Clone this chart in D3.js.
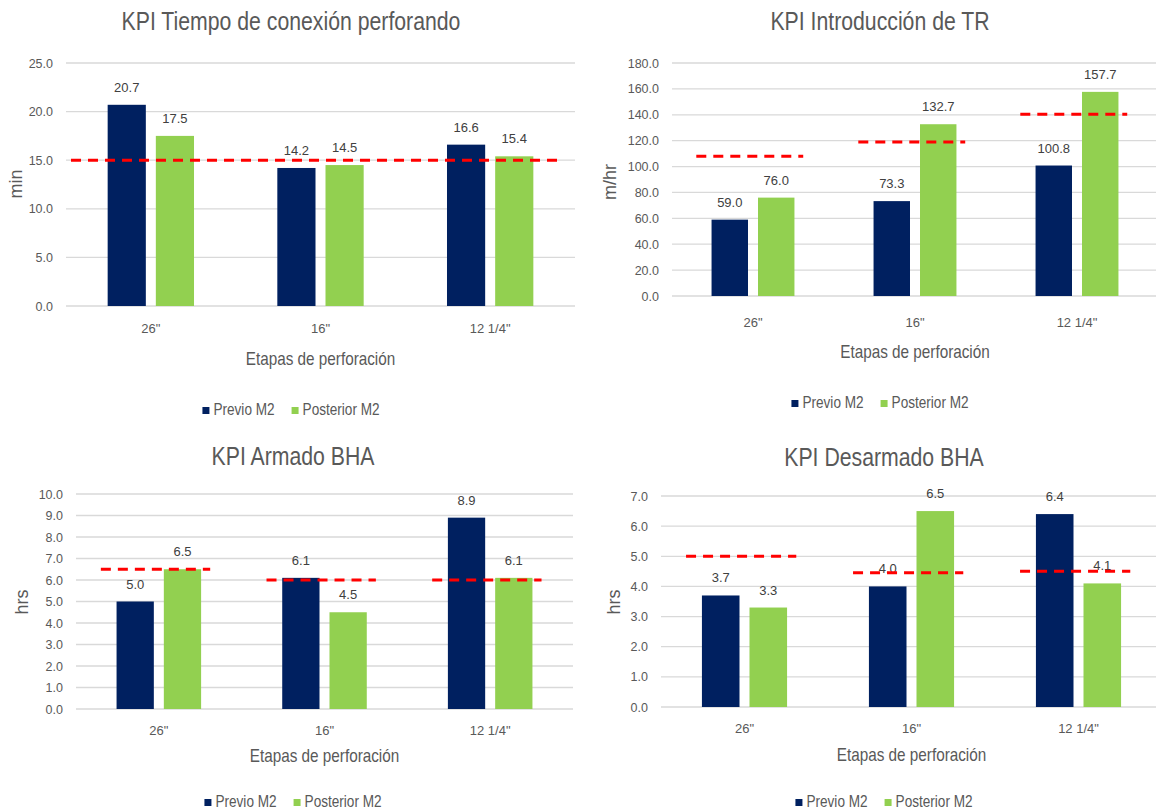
<!DOCTYPE html>
<html>
<head>
<meta charset="utf-8">
<script src="https://cdn.jsdelivr.net/npm/d3@7"></script>
<style>
  html, body { margin: 0; padding: 0; background: #ffffff; }
  svg { display: block; }
</style>
</head>
<body>
<svg id="board" width="1156" height="811"></svg>
<script>
// Drilling stages and series
const categories = ['26"', '16"', '12 1/4"'];
const seriesNames = ["Previo M2", "Posterior M2"];

// KPI Tiempo de conexión perforando (min)
const conexionPrevio = [20.7, 14.2, 16.6];
const conexionPosterior = [17.5, 14.5, 15.4];
const conexionMeta = [15.0];
const conexionTicks = [0, 5, 10, 15, 20, 25];

// KPI Introducción de TR (m/hr)
const introPrevio = [59.0, 73.3, 100.8];
const introPosterior = [76.0, 132.7, 157.7];
const introMeta = [108, 119, 140.5];
const introTicks = [0, 20, 40, 60, 80, 100, 120, 140, 160, 180];

// KPI Armado BHA (hrs)
const armadoPrevio = [5.0, 6.1, 8.9];
const armadoPosterior = [6.5, 4.5, 6.1];
const armadoMeta = [6.5, 6.0, 6.0];
const armadoTicks = [0, 1, 2, 3, 4, 5, 6, 7, 8, 9, 10];

// KPI Desarmado BHA (hrs)
const desarmadoPrevio = [3.7, 4.0, 6.4];
const desarmadoPosterior = [3.3, 6.5, 4.1];
const desarmadoMeta = [5.0, 4.45, 4.5];
const desarmadoTicks = [0, 1, 2, 3, 4, 5, 6, 7];

const colors = { "Previo M2": "#002060", "Posterior M2": "#92d050" };
const textGray = "#595959";
const labelGray = "#404040";
const NARROW = 0.85;

const charts = [
  { title: "KPI Tiempo de conexión perforando", yTitle: "min",
    previo: conexionPrevio, posterior: conexionPosterior, meta: conexionMeta, ticks: conexionTicks,
    plot: { left: 66, right: 575, top: 63, bottom: 306 },
    metaSpan: { from: 5, to: -12 }, centerX: 291, titleY: 30, legendY: 415,
    catY: 333, axisTitleY: 365, yTitleX: 22, yTitleY: 184 },
  { title: "KPI Introducción de TR", yTitle: "m/hr",
    previo: introPrevio, posterior: introPosterior, meta: introMeta, ticks: introTicks,
    plot: { left: 672, right: 1158, top: 63, bottom: 296 },
    centerX: 880, titleY: 30, legendY: 408,
    catY: 327, axisTitleY: 358, yTitleX: 616, yTitleY: 182 },
  { title: "KPI Armado BHA", yTitle: "hrs",
    previo: armadoPrevio, posterior: armadoPosterior, meta: armadoMeta, ticks: armadoTicks,
    plot: { left: 76, right: 573, top: 494, bottom: 709 },
    centerX: 293, titleY: 465, legendY: 807,
    catY: 735, axisTitleY: 762, yTitleX: 28, yTitleY: 602 },
  { title: "KPI Desarmado BHA", yTitle: "hrs",
    previo: desarmadoPrevio, posterior: desarmadoPosterior, meta: desarmadoMeta, ticks: desarmadoTicks,
    plot: { left: 661, right: 1162, top: 496, bottom: 707 },
    centerX: 884, titleY: 466, legendY: 807,
    catY: 733, axisTitleY: 761, yTitleX: 620, yTitleY: 602 }
];

const svg = d3.select("#board");
svg.append("rect").attr("width", 1156).attr("height", 811).attr("fill", "#ffffff");

const fmt = d3.format(".1f");

function narrowText(parent, text, x, y, size, color, anchor) {
  return parent.append("text")
    .attr("transform", `translate(${x},${y}) scale(${NARROW},1)`)
    .attr("text-anchor", anchor || "middle")
    .attr("font-family", "'Liberation Sans', Arial, sans-serif")
    .attr("font-size", size)
    .attr("fill", color)
    .text(text);
}

charts.forEach(c => {
  const g = svg.append("g");
  const p = c.plot;

  const x0 = d3.scaleBand().domain(categories).range([p.left, p.right]).padding(0);
  const barW = x0.bandwidth() * 0.225;
  const gap = 10;
  const x1 = d3.scaleBand().domain(seriesNames)
    .range([-(barW + gap / 2), barW + gap / 2])
    .paddingInner(gap / (barW + gap)).paddingOuter(0);
  const y = d3.scaleLinear().domain([0, d3.max(c.ticks)]).range([p.bottom, p.top]);

  // gridlines
  g.append("g").selectAll("line").data(c.ticks).join("line")
    .attr("x1", p.left).attr("x2", p.right)
    .attr("y1", d => y(d)).attr("y2", d => y(d))
    .attr("stroke", "#d9d9d9").attr("stroke-width", 1.3);

  // value axis labels
  const yAxis = d3.axisLeft(y).tickValues(c.ticks).tickFormat(fmt).tickSize(0).tickPadding(13);
  const ya = g.append("g").attr("transform", `translate(${p.left},0)`).call(yAxis);
  ya.select(".domain").remove();
  ya.selectAll("text")
    .attr("font-family", "'Liberation Sans', Arial, sans-serif")
    .attr("font-size", 12.5).attr("fill", textGray);

  // category axis labels
  const xAxis = d3.axisBottom(x0).tickSize(0).tickPadding(0);
  const xa = g.append("g").attr("transform", `translate(0,${c.catY})`).call(xAxis);
  xa.select(".domain").remove();
  xa.selectAll("text")
    .attr("dy", 0)
    .attr("font-family", "'Liberation Sans', Arial, sans-serif")
    .attr("font-size", 13).attr("fill", textGray);

  // bars
  const rows = categories.map((cat, i) => ({
    cat,
    values: [
      { s: seriesNames[0], v: c.previo[i] },
      { s: seriesNames[1], v: c.posterior[i] }
    ]
  }));
  const groups = g.append("g").selectAll("g").data(rows).join("g")
    .attr("transform", d => `translate(${x0(d.cat) + x0.bandwidth() / 2},0)`);
  groups.selectAll("rect").data(d => d.values).join("rect")
    .attr("x", d => x1(d.s)).attr("width", x1.bandwidth())
    .attr("y", d => y(d.v)).attr("height", d => y(0) - y(d.v))
    .attr("fill", d => colors[d.s]);
  groups.selectAll("text").data(d => d.values).join("text")
    .attr("x", d => x1(d.s) + x1.bandwidth() / 2)
    .attr("y", d => y(d.v) - 13)
    .attr("text-anchor", "middle")
    .attr("font-family", "'Liberation Sans', Arial, sans-serif")
    .attr("font-size", 13).attr("fill", labelGray)
    .text(d => fmt(d.v));

  // target lines
  const dash = { stroke: "#ff0000", "stroke-width": 3, "stroke-dasharray": "10,7" };
  let segs;
  if (c.meta.length === 1) {
    segs = [{ v: c.meta[0], a: p.left + c.metaSpan.from, b: p.right + c.metaSpan.to }];
  } else {
    segs = categories.map((cat, i) => {
      const cx = x0(cat) + x0.bandwidth() / 2;
      return { v: c.meta[i], a: cx - 0.35 * x0.bandwidth(), b: cx + 0.31 * x0.bandwidth() };
    });
  }
  const ml = g.append("g").selectAll("line").data(segs).join("line")
    .attr("x1", d => d.a).attr("x2", d => d.b)
    .attr("y1", d => y(d.v)).attr("y2", d => y(d.v));
  Object.entries(dash).forEach(([k, v]) => ml.attr(k, v));

  // titles
  narrowText(g, c.title, c.centerX, c.titleY, 25, textGray);
  narrowText(g, "Etapas de perforación", (p.left + p.right) / 2, c.axisTitleY, 18, textGray);
  g.append("text")
    .attr("transform", `translate(${c.yTitleX},${c.yTitleY}) rotate(-90)`)
    .attr("text-anchor", "middle")
    .attr("font-family", "'Liberation Sans', Arial, sans-serif")
    .attr("font-size", 18).attr("fill", textGray)
    .text(c.yTitle);

  // legend
  const lg = g.append("g");
  let cursor = 0;
  const items = [];
  seriesNames.forEach((s, i) => {
    const it = lg.append("g");
    it.append("rect").attr("x", 0).attr("y", -8).attr("width", 7).attr("height", 7).attr("fill", colors[s]);
    const t = narrowText(it, s, 11, 0, 16, textGray, "start");
    const w = 11 + t.node().getComputedTextLength() * NARROW;
    it.attr("transform", `translate(${cursor},0)`);
    cursor += w + (i < seriesNames.length - 1 ? 17 : 0);
    items.push(it);
  });
  lg.attr("transform", `translate(${c.centerX - cursor / 2},${c.legendY})`);
});
</script>
</body>
</html>
